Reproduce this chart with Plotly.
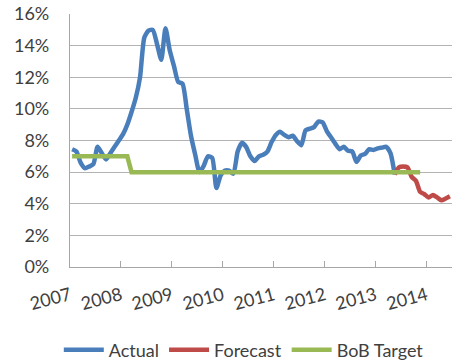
import plotly.graph_objects as go

# Monthly inflation, Jan 2007 onwards (percent)
actual = [7.45, 7.3, 6.6, 6.25, 6.35, 6.5, 7.6, 7.2, 6.8, 7.2, 7.6, 8.0,
          8.4, 9.0, 9.8, 10.7, 12.0, 14.5, 14.95, 15.0, 14.1, 13.1, 15.1, 13.7,
          12.7, 11.7, 11.6, 10.0, 8.3, 7.1, 6.0, 6.4, 7.0, 6.9, 5.0, 5.8,
          6.1, 6.1, 5.9, 7.3, 7.85, 7.6, 7.0, 6.7, 7.0, 7.1, 7.3, 7.9,
          8.35, 8.55, 8.35, 8.2, 8.3, 7.95, 7.7, 8.65, 8.75, 8.85, 9.2, 9.15,
          8.6, 8.2, 7.8, 7.45, 7.6, 7.35, 7.3, 6.65, 7.05, 7.15, 7.45, 7.4,
          7.5, 7.55, 7.6, 7.2, 5.85]
forecast_start = 76
forecast = [5.85, 6.3, 6.35, 6.3, 5.7, 5.45, 4.75, 4.6, 4.4, 4.55, 4.4, 4.22, 4.33, 4.47]
target = [7.0] * 14 + [6.0] * 69
years = ["2007", "2008", "2009", "2010", "2011", "2012", "2013", "2014"]
n_months = 90

x_actual = list(range(len(actual)))
x_forecast = list(range(forecast_start, forecast_start + len(forecast)))
x_target = list(range(len(target)))

font_fam = "Lato, 'Open Sans', sans-serif"
txt = "#404040"

fig = go.Figure()
fig.add_trace(go.Scatter(x=x_actual, y=[v / 100 for v in actual], mode="lines", name="Actual",
                         line=dict(color="#4a7ebb", width=4.5, shape="spline", smoothing=0.6)))
fig.add_trace(go.Scatter(x=x_forecast, y=[v / 100 for v in forecast], mode="lines", name="Forecast",
                         line=dict(color="#be4b48", width=4.5, shape="spline", smoothing=0.6)))
fig.add_trace(go.Scatter(x=x_target, y=[v / 100 for v in target], mode="lines", name="BoB Target",
                         line=dict(color="#98b954", width=4.5)))

fig.update_layout(
    width=453, height=363,
    margin=dict(l=70, r=1, t=14, b=96, autoexpand=False),
    paper_bgcolor="white", plot_bgcolor="white",
    font=dict(family=font_fam, size=18, color=txt),
    showlegend=True,
    legend=dict(orientation="h", x=0.455, xanchor="center", yref="container",
                y=0.036, yanchor="middle",
                font=dict(size=18, color=txt), itemwidth=40, tracegroupgap=0),
    xaxis=dict(range=[-0.5, n_months - 0.5], automargin=False,
               tickvals=[-0.5 + 12 * i for i in range(len(years))], ticktext=years,
               tickangle=-15, showgrid=False, zeroline=False,
               showline=True, linecolor="#a6a6a6", linewidth=1.3,
               ticks="inside", ticklen=6, tickcolor="#a6a6a6", tickwidth=1.3,
               ticklabelstandoff=10),
    yaxis=dict(range=[0, 0.16], dtick=0.02, tickformat=".0%", automargin=False,
               showgrid=True, gridcolor="#b3b3b3", gridwidth=1.3, zeroline=False,
               showline=True, linecolor="#a6a6a6", linewidth=1.3,
               ticks="", ticklabelstandoff=16),
)

fig.write_html("out.html")
